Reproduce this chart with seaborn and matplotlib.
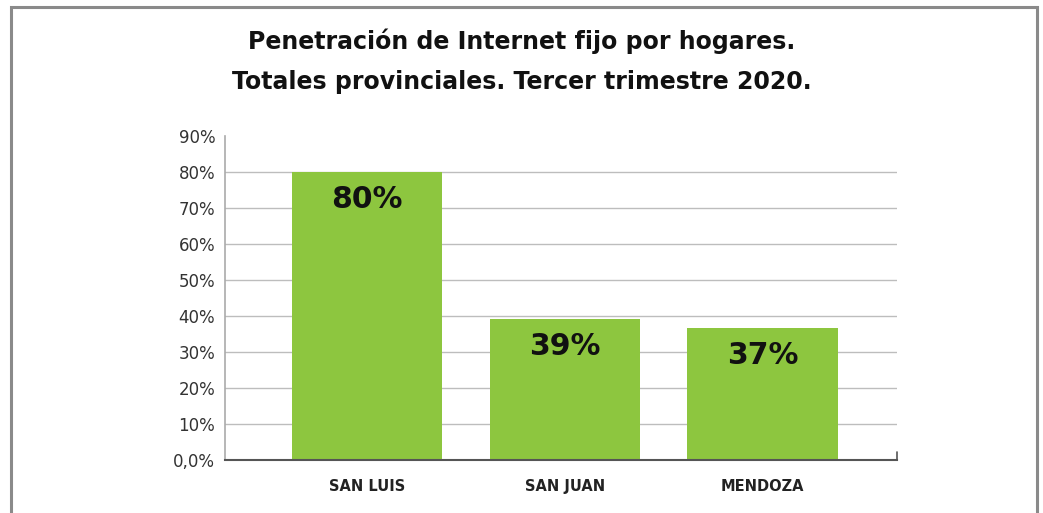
import matplotlib
matplotlib.use("Agg")
import matplotlib.pyplot as plt
import seaborn as sns
import pandas as pd
from matplotlib.patches import Rectangle
from matplotlib.lines import Line2D

provinces = ["SAN LUIS", "SAN JUAN", "MENDOZA"]
values = [80.0, 39.2, 36.7]
value_labels = ["80%", "39%", "37%"]
ytick_values = [0, 10, 20, 30, 40, 50, 60, 70, 80, 90]
ytick_labels = ["0,0%", "10%", "20%", "30%", "40%", "50%", "60%", "70%", "80%", "90%"]
title = "Penetración de Internet fijo por hogares.\nTotales provinciales. Tercer trimestre 2020."

sns.set_theme(style="white")
plt.rcParams['font.family'] = ['DejaVu Sans']

df = pd.DataFrame({"prov": provinces, "val": values})

fig = plt.figure(figsize=(10.43, 5.13), dpi=100)
ax = fig.add_axes([225/1043, 1-460/513, (897-225)/1043, (460-136)/513])

sns.barplot(data=df, x="prov", y="val", color="#8DC63F", saturation=1,
            width=0.76, linewidth=0, ax=ax, zorder=3)

ax.set_ylim(0, 90)
ax.set_xlim(-0.72, 2.68)
ax.set_yticks(ytick_values)
ax.set_yticklabels(ytick_labels, fontsize=12, color="#333333")
ax.set_xticks(range(len(provinces)))
ax.set_xticklabels(provinces, fontsize=10.5, fontweight="bold", color="#222222")
ax.tick_params(axis="x", length=0, pad=14)
ax.tick_params(axis="y", length=0, pad=7)
ax.set_xlabel("")
ax.set_ylabel("")

for y in ytick_values[1:-1]:
    ax.axhline(y, color="#bdbdbd", lw=1.0, zorder=1)

for s in ["top", "right"]:
    ax.spines[s].set_visible(False)
ax.spines["left"].set_color("#aaaaaa")
ax.spines["left"].set_linewidth(1.2)
ax.spines["bottom"].set_color("#555555")
ax.spines["bottom"].set_linewidth(1.5)
ax.spines["left"].set_zorder(4)
ax.spines["bottom"].set_zorder(4)

# small end tick on x-axis
ax.add_line(Line2D([1, 1], [0, 0.025], transform=ax.transAxes, color="#555555", lw=1.2, clip_on=False))

for i, (v, lab) in enumerate(zip(values, value_labels)):
    ax.text(i, v - 7.6, lab, ha="center", va="center", fontsize=21.5, fontweight="bold",
            color="#111111", zorder=5)

fig.text(0.5, 1-61/513, title, ha="center", va="center", fontsize=17,
         fontweight="bold", color="#111111", linespacing=1.85)

fig.patches.append(Rectangle((11/1043, -0.1), (1037-11)/1043, 1.1 - 7/513,
                             transform=fig.transFigure, fill=False,
                             edgecolor="#8a8a8a", lw=2.2, clip_on=False))

fig.savefig("out.png", dpi=100)
